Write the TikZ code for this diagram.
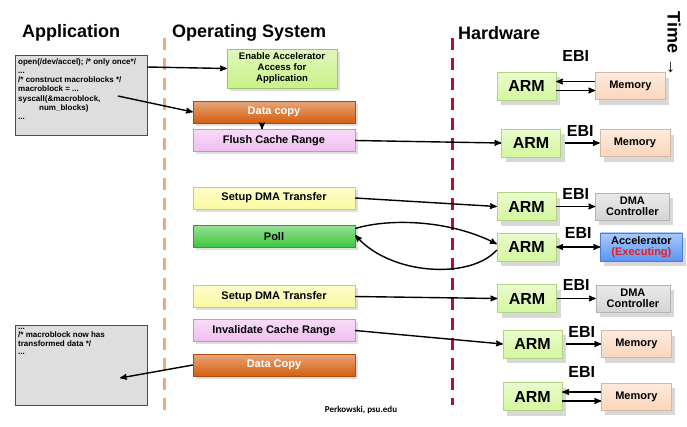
\documentclass[tikz,border=0pt]{standalone}
\usepackage{fontspec}
\setmainfont{Liberation Sans}
\newfontfamily\footfont{Carlito}
\usetikzlibrary{arrows,positioning,shadows}

\definecolor{codegray}{RGB}{222,222,222}
\definecolor{enablegreen}{RGB}{200,242,135}
\definecolor{armgreen}{RGB}{212,247,158}
\definecolor{copyorange}{RGB}{212,94,14}
\definecolor{flushpink}{RGB}{240,190,240}
\definecolor{setupyellow}{RGB}{250,250,160}
\definecolor{pollgreen}{RGB}{60,198,60}
\definecolor{mempeach}{RGB}{251,214,188}
\definecolor{dmagray}{RGB}{212,212,212}
\definecolor{accblue}{RGB}{88,148,245}
\definecolor{execred}{RGB}{232,28,28}
\definecolor{oscolor}{RGB}{232,172,128}
\definecolor{hwcolor}{RGB}{180,15,50}

\tikzset{x=1pt, y=-1pt, % One unit is one pixel of the slide, y runs downwards
        node distance=39pt, % Gap between an ARM and the device it talks to
        header/.style={ % Column titles
            font=\bfseries\fontsize{18}{21}\selectfont,
            inner sep=1pt},
        codebox/.style={ % User code listings
            draw=black!70,
            fill=codegray,
            inner sep=3pt,
            font=\bfseries\fontsize{8}{9.3}\selectfont},
        osbox/.style={ % Sets the properties for each OS step
            draw=#1!80!black,
            top color=#1!55!white, bottom color=#1,
            minimum width=162pt, minimum height=22pt,
            font=\bfseries\fontsize{11}{13}\selectfont,
            drop shadow={opacity=0.25}},
        hwbox/.style={ % Sets the properties for each hardware block
            draw=#1!85!black,
            top color=#1!50!white, bottom color=#1,
            minimum width=70pt, minimum height=27pt,
            align=center,
            font=\bfseries\fontsize{11}{11.5}\selectfont,
            drop shadow={opacity=0.3, shadow xshift=4pt, shadow yshift=-5pt}},
        armbox/.style={
            hwbox=armgreen,
            minimum width=59pt, minimum height=28pt,
            font=\bfseries\fontsize{16}{18}\selectfont},
        ebi/.style={font=\bfseries\fontsize{16}{18}\selectfont, inner sep=0pt},
        divider/.style={line width=3pt, dash pattern=on 12pt off 8pt},
        conn/.style={->, >=stealth', line width=1.4pt},
        every edge/.style={ % Sets the properties for each connector
            draw,
            ->,>=stealth',
            line width=1.4pt}
        }

\begin{document}
\begin{tikzpicture}
    \fill[white] (0,0) rectangle (687,426);
    \useasboundingbox (0,0) rectangle (687,426);

    % column titles
    \node[header, anchor=west] (app) at (21,33) {Application};
    \node[header, anchor=west] (os) at (171,33) {Operating System};
    \node[header, anchor=west] (hw) at (457,33) {Hardware};
    \node[header, rotate=-90] (time) at (674,44) {Time →};

    \draw[divider, oscolor] (164,38) -- (164,413);
    \draw[divider, hwcolor] (452,38) -- (452,405);

    % application
    \node[codebox, anchor=north west] (code1) at (15,55)
        {\parbox[c][74pt][t]{126pt}{open(/dev/accel); /* only once*/\\
        ...\\
        /* construct macroblocks */\\
        macroblock = ...\\
        syscall(\&macroblock,\\
        \hspace*{21pt}num\_blocks)\\
        ...}};
    \node[codebox, anchor=north west, font=\bfseries\fontsize{8}{8.5}\selectfont] (code2) at (15,325)
        {\parbox[c][74pt][t]{126pt}{...\\
        /* macroblock now has\\
        transformed data */\\
        ...}};
    \coordinate (call1) at (147,67);
    \coordinate (call2) at (118,96);
    \coordinate (ret) at (120,378);

    % operating system
    \node[osbox=enablegreen, minimum width=110pt, minimum height=39pt, align=center,
          font=\bfseries\fontsize{9.5}{11}\selectfont] (enable) at (282,68.5)
        {Enable Accelerator\\Access for\\Application};
    \node[osbox=copyorange, text=white] (dcopy) at (274,112) {Data copy};
    \node[osbox=flushpink] (flush) at (274,140.5) {Flush Cache Range};
    \node[osbox=setupyellow] (setup1) at (274,198) {Setup DMA Transfer};
    \node[osbox=pollgreen] (poll) at (274,236.5) {Poll};
    \node[osbox=setupyellow] (setup2) at (274,296.5) {Setup DMA Transfer};
    \node[osbox=flushpink] (inval) at (274,330.5) {Invalidate Cache Range};
    \node[osbox=copyorange, text=white] (dcopy2) at (274,365) {Data Copy};

    % hardware
    \node[armbox] (arm1) at (526.5,86) {ARM};
    \node[hwbox=mempeach] (mem1) [right=of arm1] {Memory};
    \node[armbox] (arm2) at (531,143) {ARM};
    \node[hwbox=mempeach] (mem2) [right=of arm2] {Memory};
    \node[armbox] (arm3) at (526.5,206.5) {ARM};
    \node[hwbox=dmagray, minimum width=74pt] (dma1) [right=of arm3] {DMA\\Controller};
    \node[armbox] (arm4) at (526.5,247) {ARM};
    \node[hwbox=accblue, minimum width=82pt] (acc) [right=44pt of arm4]
        {Accelerator\\{\color{execred}(Executing)}};
    \node[armbox] (arm5) at (527,298.5) {ARM};
    \node[hwbox=dmagray, minimum width=74pt] (dma2) [right=of arm5] {DMA\\Controller};
    \node[armbox] (arm6) at (532.5,344) {ARM};
    \node[hwbox=mempeach] (mem6) [right=of arm6] {Memory};
    \node[armbox] (arm7) at (532.5,396.5) {ARM};
    \node[hwbox=mempeach] (mem7) [right=of arm7] {Memory};
    \node[font=\footfont\bfseries\fontsize{9}{10}\selectfont] (credit) at (361,410) {Perkowski, psu.edu};

    \draw
        (call1) edge (enable.west)
        (call2) edge (dcopy.west)
        ([xshift=-12pt]dcopy.south) edge ([xshift=-12pt]flush.north)
        (flush.east) edge (arm2.west)
        (setup1.east) edge (arm3.west)
        (setup2.east) edge (arm5.west)
        (inval.east) edge (arm6.west)
        (dcopy2.west) edge (ret);

    \draw
        ([yshift=4.5pt]mem1.west) edge node[ebi, above=19pt] {EBI} ([yshift=4.5pt]arm1.east)
        ([yshift=-4.5pt]arm1.east) edge ([yshift=-4.5pt]mem1.west)
        (arm2.east) edge[shorten <=4pt] node[ebi, above=6pt] {EBI} (mem2.west)
        (arm3.east) edge node[ebi, above=6pt] {EBI} (dma1.west)
        (arm4.east) edge[<->] node[ebi, above=8pt] {EBI} (acc.west)
        (arm5.east) edge node[ebi, above=7pt] {EBI} (dma2.west)
        (arm6.east) edge[shorten <=4pt] node[ebi, above=6pt] {EBI} (mem6.west)
        ([yshift=4.5pt]mem7.west) edge node[ebi, above=14pt] {EBI} ([yshift=4.5pt]arm7.east)
        ([yshift=-4.5pt]arm7.east) edge ([yshift=-4.5pt]mem7.west);

    % polling loop
    \draw[conn] ([yshift=8pt]poll.east) .. controls (390,218) and (450,220) .. ([yshift=3pt]arm4.west);
    \draw[conn] ([yshift=-3pt]arm4.west) .. controls (470,280) and (390,275) .. ([yshift=1.5pt]poll.east);
\end{tikzpicture}
\end{document}
